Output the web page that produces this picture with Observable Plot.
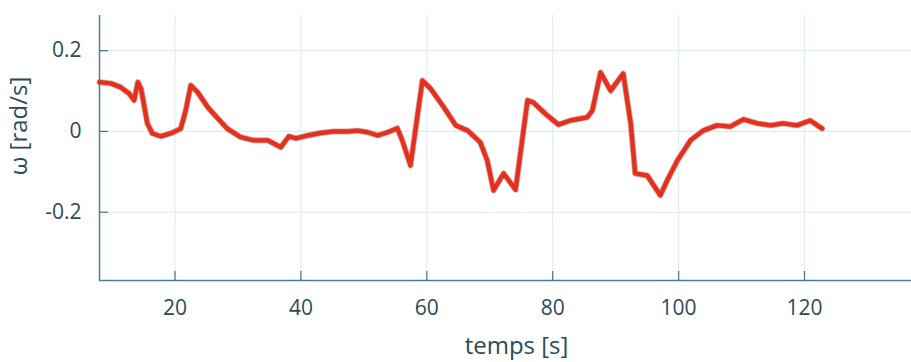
<!DOCTYPE html>
<html>
<head>
<meta charset="utf-8">
<script src="https://cdn.jsdelivr.net/npm/d3@7"></script>
<script src="https://cdn.jsdelivr.net/npm/@observablehq/plot@0.6"></script>
<style>
  html, body { margin: 0; padding: 0; background: #ffffff; }
  #chart svg { display: block; overflow: visible; }
</style>
</head>
<body>
<div id="chart"></div>
<script>
const times = [8, 9.8, 11.4, 12.7, 13.5, 14.1, 14.6, 15.6, 16.4, 17.7, 19.3, 20.9, 21.7, 22.5, 23.6, 25.2, 26.8, 28.3, 30.4, 32.5, 34.7, 35.7, 36.8, 38.1, 39.2, 41.1, 43.1, 45.2, 47.4, 49, 50.6, 52.2, 53.8, 55.3, 56.1, 57.4, 59.3, 60.6, 62.7, 64.6, 66.5, 68.5, 69.6, 70.6, 72.2, 74.1, 76, 76.9, 79.1, 80.9, 82.8, 85.5, 86.3, 87.6, 89.2, 91.2, 92.4, 93.1, 95, 97.1, 98.2, 99.8, 101.9, 103.9, 106.1, 108.2, 110.3, 112.5, 114.6, 116.6, 118.8, 120.9, 122.8];
const omega = [0.122, 0.119, 0.109, 0.094, 0.077, 0.122, 0.106, 0.02, -0.005, -0.012, -0.005, 0.007, 0.052, 0.114, 0.097, 0.06, 0.032, 0.007, -0.014, -0.022, -0.022, -0.03, -0.039, -0.012, -0.017, -0.01, -0.004, 0, 0, 0.002, -0.002, -0.01, -0.002, 0.008, -0.022, -0.084, 0.126, 0.106, 0.06, 0.015, 0.002, -0.027, -0.072, -0.146, -0.104, -0.144, 0.077, 0.072, 0.04, 0.017, 0.027, 0.035, 0.052, 0.146, 0.101, 0.143, 0.019, -0.104, -0.109, -0.158, -0.121, -0.072, -0.022, 0.002, 0.015, 0.012, 0.03, 0.02, 0.015, 0.02, 0.015, 0.027, 0.007];
const xTicks = [20, 40, 60, 80, 100, 120];
const yTicks = [-0.2, 0, 0.2];
const xDomain = [8, 137];
const yDomain = [-0.369, 0.287];
const xLabel = "temps [s]";
const yLabel = "ω [rad/s]";

const data = times.map((t, i) => ({t, w: omega[i]}));

const axisColor = "#4f7d8f";
const textColor = "#2c4a5a";
const gridColor = "#e0ecf4";
const tickLen = 9 * (yDomain[1] - yDomain[0]) / (362 - 15 - 82);
const tickLenX = 9 * (xDomain[1] - xDomain[0]) / (911 - 99);

const chart = Plot.plot({
  width: 911,
  height: 362,
  marginLeft: 99,
  marginRight: 0,
  marginTop: 15,
  marginBottom: 82,
  x: {domain: xDomain},
  y: {domain: yDomain},
  style: {fontFamily: "'Open Sans', sans-serif", fontSize: "21px", background: "#ffffff"},
  marks: [
    Plot.gridX(xTicks, {stroke: gridColor, strokeOpacity: 1, strokeWidth: 1.2}),
    Plot.gridY(yTicks, {stroke: gridColor, strokeOpacity: 1, strokeWidth: 1.2}),
    Plot.axisX(xTicks, {tickSize: 0, tickPadding: 20, fontSize: 21, color: textColor, label: null}),
    Plot.axisY(yTicks, {tickSize: 0, tickPadding: 18, fontSize: 21, color: textColor, label: null, tickFormat: d => String(d)}),
    Plot.ruleX(xTicks, {y1: yDomain[0], y2: yDomain[0] + tickLen, stroke: axisColor, strokeWidth: 1.3}),
    Plot.ruleY(yTicks, {x1: xDomain[0], x2: xDomain[0] + tickLenX, stroke: axisColor, strokeWidth: 1.3}),
    Plot.ruleY([yDomain[0]], {stroke: axisColor, strokeWidth: 1.5}),
    Plot.ruleX([xDomain[0]], {stroke: axisColor, strokeWidth: 1.5}),
    Plot.line(data, {x: "t", y: "w", stroke: "#9a1d10", strokeWidth: 6, strokeOpacity: 0.4, strokeLinejoin: "round"}),
    Plot.line(data, {x: "t", y: "w", stroke: "#e4301c", strokeWidth: 4.4, strokeLinejoin: "round", strokeLinecap: "round"}),
    Plot.text([xLabel], {frameAnchor: "bottom", lineAnchor: "middle", textAnchor: "middle", dx: 11, dy: 66, fontSize: 24, fill: textColor}),
    Plot.text([yLabel], {frameAnchor: "left", lineAnchor: "middle", textAnchor: "middle", dx: -80, dy: -22, rotate: -90, fontSize: 24, fill: textColor})
  ]
});
document.getElementById("chart").appendChild(chart);
</script>
</body>
</html>
